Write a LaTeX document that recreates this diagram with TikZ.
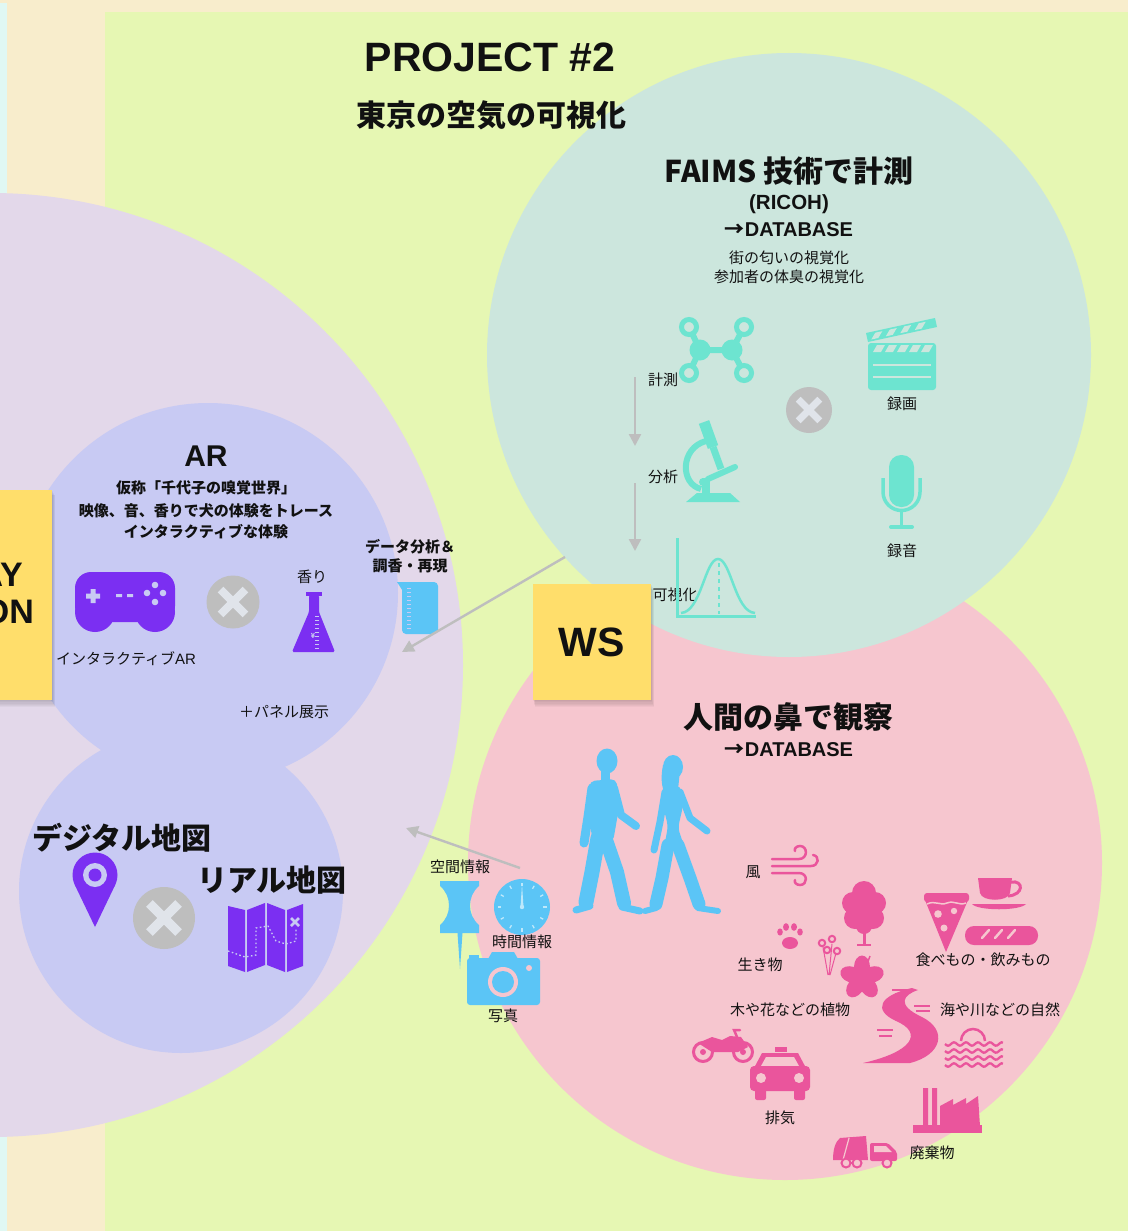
\documentclass[tikz,border=0pt]{standalone}
\usepackage{fontspec}
\setmainfont{Noto Sans CJK JP}
\newfontfamily\latin{Liberation Sans}
\usetikzlibrary{arrows.meta}

\definecolor{cream}{HTML}{F8EDCC}
\definecolor{mint}{HTML}{E0F8F3}
\definecolor{lime}{HTML}{E6F7B3}
\definecolor{lilac}{HTML}{E3D8EA}
\definecolor{periw}{HTML}{C8CAF3}
\definecolor{sage}{HTML}{CCE6DD}
\definecolor{blush}{HTML}{F6C6CF}
\definecolor{sticky}{HTML}{FFDE6B}
\definecolor{aqua}{HTML}{6DE4D0}
\definecolor{violet}{HTML}{7B2FF2}
\definecolor{sky}{HTML}{5BC5F6}
\definecolor{rose}{HTML}{EA559C}
\definecolor{xgray}{HTML}{BEBEBE}
\definecolor{xcross}{HTML}{E0E4EA}
\definecolor{ink}{HTML}{111111}

% grey "x" badge: name, x, y, radius
\newcommand\xbadge[4]{%
  \node[circle, fill=xgray, minimum size=2*#4, inner sep=0] (#1) at (#2,#3) {};
  \draw[xcross, line width=0.3*#4]
    (#2-0.47*#4,#3-0.47*#4) -- (#2+0.47*#4,#3+0.47*#4)
    (#2-0.47*#4,#3+0.47*#4) -- (#2+0.47*#4,#3-0.47*#4);}

% soft shadow under a note: left, top, right, bottom
\newcommand\noteshadow[4]{%
  \foreach \k in {1,...,6}
    \fill[black, opacity=0.03] (#1+0.3*\k,#2+0.9*\k) rectangle (#3+0.5*\k,#4+1.2*\k);}

\begin{document}
\begin{tikzpicture}[x=1pt,y=-1pt,
  lbl/.style={text=ink, inner sep=0, font=\fontsize{15}{18}\selectfont},
  blbl/.style={text=ink, inner sep=0, font=\bfseries\fontsize{15}{18}\selectfont},
  head/.style={text=ink, inner sep=0, font=\bfseries\fontsize{30}{36}\selectfont},
  mid/.style={text=ink, inner sep=0, font=\bfseries\fontsize{20}{24}\selectfont},
  conn/.style={draw=xgray, line width=2.4, -{Triangle[length=12,width=12]}},
  stickynote/.style={fill=sticky, inner sep=0},
]
\useasboundingbox (0,0) rectangle (1128,1231);
\clip (0,0) rectangle (1128,1231);

% ---------- backdrop ----------
\fill[cream] (0,0) rectangle (1128,1231);
\fill[mint] (0,3) rectangle (7,1231);
\fill[lime] (105,12) rectangle (1128,1231);

% ---------- zones ----------
\fill[lilac] (-9,665) circle (472);
\fill[blush] (785,863) circle (317);
\fill[sage] (789,355) circle (302);
\fill[periw] (208,593) circle (190);
\fill[periw] (181,891) circle (162);

% ---------- left note ----------
\noteshadow{-10}{490}{52}{700}
\node[stickynote, minimum width=62, minimum height=210] (leftnote) at (21,595) {};
\node[text=ink, inner sep=0, anchor=east, font=\latin\bfseries\fontsize{34}{40}\selectfont] (noteA) at (23,575) {AY};
\node[text=ink, inner sep=0, anchor=east, font=\latin\bfseries\fontsize{34}{40}\selectfont] (noteB) at (34,612) {ON};

% ---------- titles ----------
\node[text=ink, inner sep=0, font=\latin\bfseries\fontsize{41}{48}\selectfont] (proj) at (490,57) {PROJECT \#2};
\node[text=ink, inner sep=0, font=\bfseries\fontsize{30}{36}\selectfont] (tokyo) at (491,115) {東京の空気の可視化};

% ---------- FAIMS zone ----------
\node[head] (faims) at (789,171) {FAIMS 技術で計測};
\node[text=ink, inner sep=0, font=\latin\bfseries\fontsize{20.5}{24}\selectfont] (ricoh) at (789,204) {(RICOH)};
\node[mid] (dbA) at (789,230) {→{\latin DATABASE}};
\node[lbl] (vis1) at (789,258) {街の匂いの視覚化};
\node[lbl] (vis2) at (789,277) {参加者の体臭の視覚化};

\node[lbl] (measure) at (663,380) {計測};
\node[lbl] (analyse) at (663,477) {分析};
\node[lbl] (visual) at (675,595) {可視化};
\coordinate (m1) at (635,377); \coordinate (m2) at (635,446);
\coordinate (m3) at (635,483); \coordinate (m4) at (635,551);
\draw[conn] (m1) -- (m2);
\draw[conn] (m3) -- (m4);

% molecule
\draw[aqua, line width=6] (689,327) -- (700,350) -- (689,373) (744,327) -- (732,350) -- (744,373) (700,350) -- (732,350);
\fill[aqua] (700,350) circle (10.5) (732,350) circle (10.5);
\foreach \p in {(689,327),(744,327),(689,373),(744,373)}
  \filldraw[fill=sage, draw=aqua, line width=5] \p circle (7.5);

% microscope
\fill[aqua] (697,493) -- (730,493) -- (740,502) -- (686,502) -- cycle;
\fill[aqua] (702,478) rectangle (710,494);
\draw[aqua, line width=6] (706,441) .. controls (680,448) and (680,484) .. (701,489);
\draw[aqua, line width=11] (704,422) -- (713,447);
\draw[aqua, line width=7] (713,447) -- (721,469);
\draw[aqua, line width=6, line cap=round] (708,479) -- (735,467);
\fill[aqua] (703,482) circle (4);

% distribution plot
\draw[aqua, line width=3] (677,538) -- (677,616) -- (756,616);
\draw[aqua, line width=2.5] (681,613) .. controls (701,612) and (705,559) .. (718,559) .. controls (731,559) and (735,612) .. (755,613);
\draw[aqua, line width=2, dash pattern=on 4 off 4] (719,563) -- (719,614);

\xbadge{xf}{809}{410}{23}

% clapperboard
\fill[aqua, rounded corners=3] (868,343) rectangle (936,390);
\foreach \i in {0,...,4}
  \fill[sage] (877+12*\i,345) -- (885+12*\i,345) -- (881+12*\i,352) -- (873+12*\i,352) -- cycle;
\draw[sage, line width=1.6] (873,365) -- (931,365) (873,377) -- (931,377);
\fill[aqua] (866,333) -- (935,318) -- (937,327) -- (868,342) -- cycle;
\foreach \t in {0.12,0.33,0.54,0.75}
  \fill[sage] (867+69*\t,334.5-15*\t) -- (867+69*\t+7,334.5-15*\t-1.5) -- (867+69*\t+3,340.5-15*\t-0.7) -- (867+69*\t-4,340.5-15*\t+0.8) -- cycle;
\node[lbl] (rec) at (902,404) {録画};

% microphone
\fill[aqua, rounded corners=12] (889,455) rectangle (914,507);
\draw[aqua, line width=3.5] (883,478) -- (883,492) arc[start angle=180, end angle=0, radius=18.5] -- (920,478);
\draw[aqua, line width=3.5] (901.5,510) -- (901.5,527);
\draw[aqua, line width=4, line cap=round] (891,527) -- (912,527);
\node[lbl] (audio) at (902,551) {録音};

% ---------- WS note ----------
\noteshadow{533}{584}{651}{700}
\node[stickynote, minimum width=118, minimum height=116, text=ink,
      font=\latin\bfseries\fontsize{41}{48}\selectfont] (ws) at (592,642) {WS};

% ---------- AR zone ----------
\node[text=ink, inner sep=0, font=\latin\bfseries\fontsize{30}{36}\selectfont] (ar) at (206,456) {AR};
\node[blbl] (arA) at (206,488) {仮称「千代子の嗅覚世界」};
\node[blbl] (arB) at (206,511) {映像、音、香りで犬の体験をトレース};
\node[blbl] (arC) at (206,532) {インタラクティブな体験};

% gamepad
\fill[violet, rounded corners=16] (75,572) rectangle (175,622);
\fill[violet] (95,612) circle (20) (155,612) circle (20);
\fill[periw] (86,593.5) rectangle (100,598.5) (90.5,589) rectangle (95.5,603);
\fill[periw] (116,594) rectangle (122,597) (127,594) rectangle (133,597);
\fill[periw] (155,585) circle (3.3) (147,593) circle (3.3) (163,593) circle (3.3) (155,602) circle (3.3);
\node[lbl] (gameAR) at (126,659) {インタラクティブ{\latin AR}};

\xbadge{xa}{233}{602}{26.5}

% flask
\node[lbl] (scent) at (312,577) {香り};
\fill[violet] (306,592) rectangle (322,596);
\fill[violet, rounded corners=1.5] (309,595) -- (319,595) -- (319,612) -- (335,652) -- (292,652) -- (309,612) -- cycle;
\foreach \y in {616,620,...,648} \draw[periw, line width=0.8] (315,\y) -- (318.5,\y);
\node[text=periw, inner sep=0, font=\bfseries\fontsize{7}{8}\selectfont] (yen) at (313,636) {¥};

\node[lbl] (panel) at (284,712) {＋パネル展示};

% beaker
\node[blbl] (dataA) at (410,547) {データ分析＆};
\node[blbl] (dataB) at (410,566) {調香・再現};
\fill[sky, rounded corners=4] (402,582) -- (438,582) -- (438,634) -- (402,634) -- cycle;
\fill[sky] (397,582) -- (406,582) -- (406,596) -- cycle;
\foreach \y in {588,592,...,628} \draw[periw, line width=0.8] (407,\y) -- (411,\y);

\coordinate (faimsOut) at (565,557); \coordinate (arIn) at (402,652);
\draw[conn] (faimsOut) -- (arIn);

% ---------- maps zone ----------
\node[head] (digital) at (122,838) {デジタル地図};
\fill[violet] (95,875) circle (22.5);
\fill[violet] (74.7,884.7) -- (95,927) -- (115.3,884.7) -- cycle;
\fill[periw] (95,875) circle (12);
\fill[violet] (95,875) circle (6.5);

\xbadge{xm}{164}{918}{31}

\node[head] (real) at (272,880) {リアル地図};
\fill[violet] (228,906) -- (245,910) -- (245,972) -- (228,966) -- cycle;
\fill[violet] (247,910) -- (265,903) -- (265,965) -- (247,972) -- cycle;
\fill[violet] (267,903) -- (285,910) -- (285,972) -- (267,965) -- cycle;
\fill[violet] (287,910) -- (303,904) -- (303,966) -- (287,972) -- cycle;
\draw[periw, line width=1.3, dash pattern=on 1.6 off 2.4] (228,951) -- (245,957) -- (256,955) -- (256,928) -- (268,926) -- (276,941) -- (286,944) -- (296,941) -- (296,928);
\draw[periw, line width=2.6] (291,918) -- (299,926) (291,926) -- (299,918);

% ---------- space / time / photo ----------
\coordinate (wsOut) at (520,868); \coordinate (mapIn) at (406,828);
\draw[conn] (wsOut) -- (mapIn);

\node[lbl] (space) at (460,867) {空間情報};
\fill[sky] (440,881) -- (479,881) -- (479,886) .. controls (467,896) and (467,915) .. (479,925) -- (479,933) -- (440,933) -- (440,925) .. controls (452,915) and (452,896) .. (440,886) -- cycle;
\fill[sky] (457.5,933) -- (462.5,933) -- (460,969) -- cycle;

\fill[sky] (522,907) circle (28);
\foreach \a in {0,30,...,330}
  \draw[white!60!sky, line width=1.3] (522,907) ++(\a:21) -- ++(\a:3.5);
\fill[white!60!sky] (520.5,907) -- (523.5,907) -- (522,884) -- cycle;
\fill[white!60!sky] (522,907) circle (2.2);
\node[lbl] (time) at (522,942) {時間情報};

\fill[sky, rounded corners=3] (467,958) rectangle (540,1005);
\fill[sky] (488,959) -- (492,952) -- (514,952) -- (518,959) -- cycle;
\fill[sky] (469,955) rectangle (479,959);
\fill[blush] (503,982) circle (15);
\fill[sky] (503,982) circle (11);
\fill[blush] (529,968) circle (3);
\node[lbl] (photo) at (503,1016) {写真};

% ---------- human nose zone ----------
\node[head] (nose) at (788,717) {人間の鼻で観察};
\node[mid] (dbB) at (789,750) {→{\latin DATABASE}};

% walking pair
\fill[sky] (607,761) ellipse (10.5 and 12.5);
\fill[sky] (601,770) rectangle (610,782);
\fill[sky, rounded corners=5] (590,781) -- (616,779) -- (620,802) -- (613,842) -- (593,843) -- (587,805) -- cycle;
\draw[sky, line width=9, line cap=round, line join=round] (592,788) -- (588,817) -- (584,843);
\draw[sky, line width=8, line cap=round, line join=round] (614,788) -- (621,815) -- (636,826);
\draw[sky, line width=15, line cap=round, line join=round] (598,838) -- (592,872) -- (586,902);
\draw[sky, line width=7, line cap=round] (590,906) -- (576,910);
\draw[sky, line width=14, line cap=round, line join=round] (606,840) -- (617,872) -- (624,903);
\draw[sky, line width=7, line cap=round] (622,907) -- (640,911);

\fill[sky] (673,767) ellipse (10 and 12);
\fill[sky] (663,765) .. controls (660,780) and (662,792) .. (668,797) -- (678,790) -- (680,770) -- cycle;
\fill[sky, rounded corners=5] (664,786) -- (681,786) -- (683,806) -- (678,828) -- (684,846) -- (664,848) -- (668,826) -- (663,806) -- cycle;
\draw[sky, line width=7, line cap=round, line join=round] (665,792) -- (660,822) -- (654,850);
\draw[sky, line width=7, line cap=round, line join=round] (680,792) -- (690,818) -- (707,831);
\draw[sky, line width=13, line cap=round, line join=round] (668,845) -- (662,878) -- (656,904);
\draw[sky, line width=6, line cap=round] (656,908) -- (645,911);
\draw[sky, line width=13, line cap=round, line join=round] (678,845) -- (690,878) -- (699,904);
\draw[sky, line width=6, line cap=round] (698,908) -- (718,911);

% wind
\node[lbl] (wind) at (753,872) {風};
\draw[rose, line width=2.5, line cap=round]
  (772,859) -- (799,859) .. controls (808,859) and (808,846) .. (800,846) .. controls (796,846) and (794,849) .. (795,851)
  (772,866) -- (811,866) .. controls (819,866) and (820,856) .. (813,855)
  (772,873) -- (799,873) .. controls (808,873) and (808,885) .. (800,885) .. controls (796,885) and (794,882) .. (795,880);

% tree
\fill[rose] (864,893) circle (12) (853,903) circle (11) (875,903) circle (11) (855,918) circle (11) (873,918) circle (11) (864,910) circle (14) (864,926) circle (8);
\draw[rose, line width=3] (864,920) -- (864,945);
\draw[rose, line width=1.5] (857,945) -- (871,945);

% paw
\fill[rose] (790,943) ellipse (8 and 6);
\fill[rose] (780,932) ellipse (2.8 and 3.6) (786,927) ellipse (3 and 3.8) (794,927) ellipse (3 and 3.8) (800,932) ellipse (2.8 and 3.6);
\node[lbl] (animal) at (760,965) {生き物};

% bouquet
\draw[rose, line width=1] (823,947) -- (828,975) (832,944) -- (829,975) (836,953) -- (830,975);
\foreach \p in {(822,943),(832,939),(827,950),(837,951)}
  \filldraw[fill=blush, draw=rose, line width=2] \p circle (3.2);

% hibiscus
\foreach \a in {0,72,...,288}
  \fill[rose, rotate around={\a:(862,978)}] (862,967) ellipse (8 and 11.5);
\draw[rose, line width=1.5] (862,978) -- (870,956);
\node[lbl] (plants) at (790,1010) {木や花などの植物};

% food and drink
\fill[rose] (925,900) -- (968,900) -- (946,952) -- cycle;
\fill[rose, rounded corners=3] (924,893) rectangle (969,902);
\draw[blush, line width=1.5] (927,904) .. controls (935,900) and (940,906) .. (947,903) .. controls (954,900) and (959,906) .. (966,903);
\fill[blush] (938,914) circle (3.8) (954,911) circle (3.2) (944,928) circle (3.5);
\fill[rose] (978,878) -- (1012,878) -- (1010,893) .. controls (1008,902) and (982,902) .. (980,893) -- cycle;
\draw[rose, line width=3] (1011,882) .. controls (1024,880) and (1024,895) .. (1008,896);
\fill[rose] (972,904) -- (1026,904) .. controls (1020,911) and (978,911) .. (972,904) -- cycle;
\fill[rose, rounded corners=9] (965,926) rectangle (1038,945);
\draw[blush, line width=2.5, line cap=round] (982,938) -- (989,930) (995,938) -- (1002,930) (1008,938) -- (1015,930);
\node[lbl] (food) at (983,960) {食べもの・飲みもの};

% river
\fill[rose] (912,988) .. controls (880,995) and (872,1010) .. (896,1021) .. controls (924,1033) and (912,1052) .. (863,1063)
  -- (910,1063) .. controls (942,1055) and (948,1030) .. (922,1017) .. controls (896,1005) and (903,995) .. (918,990) -- cycle;
\draw[rose, line width=1.5] (892,990) -- (908,990) (895,994) -- (906,994)
  (914,1006) -- (930,1006) (916,1011) -- (930,1011)
  (877,1030) -- (893,1030) (879,1036) -- (892,1036);
\node[lbl] (nature) at (1000,1010) {海や川などの自然};

% sea and sun
\draw[rose, line width=2.5] (961,1041) arc[start angle=180, end angle=360, radius=12];
\foreach \yy in {1044,1051,1058,1065}
  \draw[rose, line width=2.3] plot[domain=0:58, samples=40] (945+\x, {\yy+1.7*sin(30*\x)});

% motorcycle
\draw[rose, line width=3] (703,1052) circle (9.5) (743,1052) circle (9.5);
\fill[rose] (703,1052) circle (3) (743,1052) circle (3);
\fill[rose] (698,1043) -- (712,1037) -- (722,1040) -- (730,1036) -- (741,1037) -- (748,1047) -- (738,1052) -- (712,1052) -- cycle;
\draw[rose, line width=2.5, line cap=round] (737,1037) -- (734,1030) -- (740,1030);

% taxi
\fill[rose] (775,1047) rectangle (787,1052);
\fill[rose] (762,1053) -- (798,1053) -- (806,1068) -- (754,1068) -- cycle;
\fill[blush] (766,1057) -- (794,1057) -- (799,1066) -- (761,1066) -- cycle;
\fill[rose, rounded corners=4] (750,1066) rectangle (810,1091);
\fill[rose, rounded corners=2] (755,1086) rectangle (766,1100) (794,1086) rectangle (805,1100);
\fill[blush] (761,1078) circle (5) (799,1078) circle (5);
\node[lbl] (exhaust) at (780,1118) {排気};

% factory
\fill[rose] (913,1125) rectangle (982,1133);
\fill[rose] (923,1088) rectangle (928,1126) (932,1088) rectangle (937,1126);
\fill[rose] (940,1126) -- (940,1106) -- (953,1099) -- (953,1105) -- (966,1098) -- (966,1104) -- (978,1096) -- (980,1126) -- cycle;

% refuse truck
\fill[rose] (840,1138) -- (866,1136) -- (868,1160) -- (833,1160) .. controls (833,1150) and (835,1142) .. (840,1138) -- cycle;
\draw[blush, line width=1.2] (849,1138) -- (843,1160);
\fill[rose, rounded corners=2] (870,1143) -- (888,1143) -- (897,1152) -- (897,1161) -- (870,1161) -- cycle;
\fill[blush] (874,1146) -- (886,1146) -- (892,1152) -- (874,1152) -- cycle;
\filldraw[fill=blush, draw=rose, line width=2] (846,1163) circle (4.5) (857,1163) circle (4.5) (887,1163) circle (4.5);
\node[lbl] (waste) at (932,1153) {廃棄物};

\end{tikzpicture}
\end{document}
